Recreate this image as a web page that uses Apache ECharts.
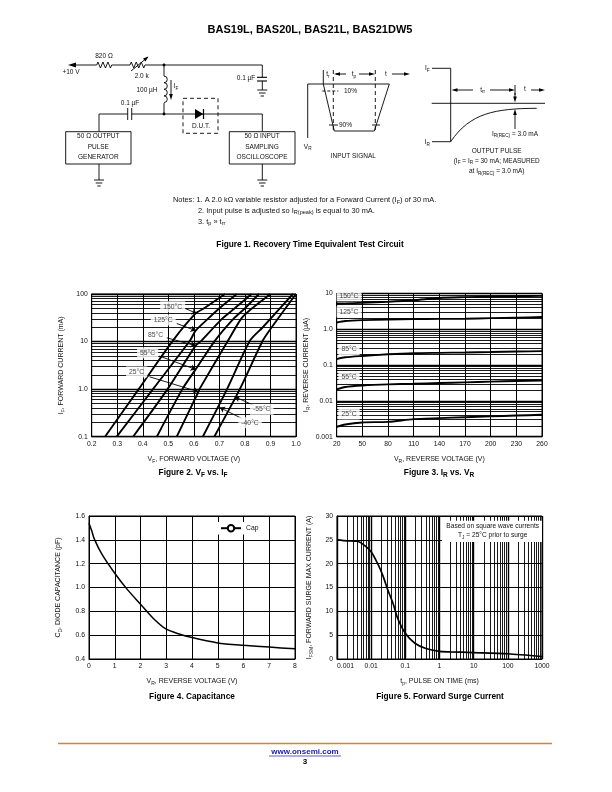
<!DOCTYPE html>
<html><head><meta charset="utf-8">
<style>html,body{margin:0;padding:0;background:#fff}#c{width:612px;height:792px}</style>
<script src="https://cdn.jsdelivr.net/npm/echarts@6/dist/echarts.min.js"></script>
</head><body><div id="c"></div>
<script>
// ---- Figure 2: VF vs IF
const f2Current150=[0.1,1,10.5,39,50,100];
const f2Volt150=[0.252,0.384,0.518,0.607,0.64,0.722];
const f2Current125=[0.1,1,10.5,17,30,50,100];
const f2Volt125=[0.298,0.44,0.585,0.607,0.655,0.70,0.768];
const f2Current85=[0.1,1,8.2,10.5,30,50,100];
const f2Volt85=[0.362,0.497,0.607,0.63,0.71,0.76,0.826];
const f2Current55=[0.1,1,2.6,10.5,30,50,100];
const f2Volt55=[0.455,0.555,0.607,0.683,0.755,0.80,0.855];
const f2Current25=[0.1,0.88,1,10.5,30,46,100];
const f2Volt25=[0.533,0.618,0.622,0.734,0.785,0.82,0.90];
const f2CurrentM55=[0.1,1,10.5,20,100];
const f2VoltM55=[0.635,0.73,0.82,0.87,0.988];
const f2CurrentM40=[0.1,1,10.5,20,100];
const f2VoltM40=[0.68,0.78,0.87,0.905,1.0];
// ---- Figure 3: IR vs VR
const f3Volt=[20,30,50,80,110,140,170,200,230,260];
const f3I150=[5.25,5.3,5.5,5.9,6.5,7.5,7.9,8.2,8.4,8.6];
const f3I125=[1.55,1.7,1.8,1.87,1.93,1.95,1.97,2.05,2.12,2.2];
const f3I85=[0.147,0.165,0.18,0.2,0.215,0.22,0.225,0.232,0.24,0.245];
const f3I55=[0.021,0.0245,0.027,0.029,0.030,0.0315,0.033,0.0345,0.036,0.037];
const f3I25=[0.0019,0.0022,0.0025,0.0026,0.0031,0.0033,0.0035,0.0037,0.0039,0.0041];
// ---- Figure 4: capacitance
const f4Volt=[0,0.1,0.2,0.5,1,1.5,2,2.5,3,3.5,4,5,6,7,8];
const f4Cap=[1.54,1.48,1.41,1.28,1.12,0.98,0.86,0.74,0.65,0.61,0.58,0.535,0.515,0.50,0.485];
// ---- Figure 5: surge current
const f5Time=[0.001,0.002,0.004,0.0065,0.01,0.0155,0.022,0.031,0.044,0.06,0.1,0.19,0.4,1,2,10,100,1000];
const f5Surge=[25,24.8,24.7,23.8,22.5,20,17.5,14.4,11.6,8.5,5.4,3.3,2.2,1.6,1.5,1.35,1.1,0.5];
// ---- Grid values and tick labels
const logMinor=[2,3,4,5,6,7,8,9];
const f2Decades=[0.1,1,10];
const f3Decades=[0.001,0.01,0.1,1];
const f5Decades=[0.001,0.01,0.1,1,10,100];
const f3Ticks=[20,50,80,110,140,170,200,230,260];
// ---- Annotations (x, y, text in data units)
const f2Labels=[[0.517,54,'150°C'],[0.48,28.4,'125°C'],[0.45,13.7,'85°C'],[0.419,5.8,'55°C'],[0.376,2.3,'25°C'],[0.866,0.376,'-55°C'],[0.82,0.197,'-40°C']];
const f2Leaders=[[0.565,50,0.611,39],[0.533,24,0.607,17],[0.494,12,0.607,8.2],[0.465,4.96,0.607,2.6],[0.426,1.82,0.618,0.88],[0.833,0.46,0.761,0.69],[0.787,0.243,0.702,0.41]];
const f3Labels=[[34.4,8.6,'150°C'],[34.4,3.07,'125°C'],[34.4,0.273,'85°C'],[34.4,0.0449,'55°C'],[34.4,0.0043,'25°C']];

const FONT='"Liberation Sans",Arial,sans-serif';
const zip=(a,b)=>a.map((v,i)=>[v,b[i]]);
const minors=d=>d.flatMap(x=>logMinor.map(m=>+(x*m).toPrecision(3)));
const subRich=(fs)=>({b:{fontSize:fs,fontFamily:FONT,color:'#111'},s:{fontSize:fs-2,fontFamily:FONT,color:'#111',padding:[4,0,0,0]}});
const nameOf=(m,s,r)=>`{b|${m}}{s|${s}}{b|${r}}`;

function xAxis(i,o){return Object.assign({gridIndex:i,nameLocation:'middle',nameGap:18,
  nameTextStyle:{rich:subRich(7)},axisLine:{show:true,onZero:false,lineStyle:{color:'#000',width:1}},axisTick:{show:false},
  axisLabel:{fontSize:6.8,fontFamily:FONT,color:'#111',margin:4},
  splitLine:{show:true,lineStyle:{color:'#000',width:1}},minorTick:{show:false}},o);}
function yAxis(i,o){return Object.assign({gridIndex:i,nameLocation:'middle',nameGap:26,nameRotate:90,
  nameTextStyle:{rich:subRich(7)},axisLine:{show:true,onZero:false,lineStyle:{color:'#000',width:1}},axisTick:{show:false},
  axisLabel:{fontSize:6.8,fontFamily:FONT,color:'#111',margin:4},
  splitLine:{show:true,lineStyle:{color:'#000',width:1}}},o);}
function curve(name,i,data,w){return {name,type:'line',xAxisIndex:i,yAxisIndex:i,data,showSymbol:false,smooth:0.25,
  lineStyle:{color:'#000',width:w},itemStyle:{color:'#000'},silent:true,z:5,clip:true};}
function gridLines(i,key,vals,w){return {type:'line',xAxisIndex:i,yAxisIndex:i,data:[],silent:true,z:1,
  markLine:{silent:true,symbol:'none',animation:false,precision:6,label:{show:false},lineStyle:{color:'#000',width:w,type:'solid'},
    data:vals.map(v=>({[key]:v}))}};}
function labelSeries(i,labels,leaders){return {type:'scatter',xAxisIndex:i,yAxisIndex:i,data:labels,symbolSize:1,silent:true,z:8,
  itemStyle:{color:'transparent'},encode:{x:0,y:1},
  label:{show:true,position:'inside',formatter:p=>p.value[2],fontSize:6.8,fontFamily:FONT,color:'#111',backgroundColor:'#fff',padding:[2,3]},
  markLine:leaders?{silent:true,symbol:['none','arrow'],symbolSize:5,animation:false,label:{show:false},lineStyle:{color:'#000',width:0.9,type:'solid'},
    data:leaders.map(l=>[{coord:[l[0],l[1]]},{coord:[l[2],l[3]]}])}:undefined};}

const G=[];
const T={type:'text'};
function ln(pts,o={}){G.push({type:'polyline',z:50,silent:true,shape:{points:pts},style:{stroke:'#000',fill:null,lineWidth:o.w||0.9,lineDash:o.dash||null}});}
function rect(x,y,w,h,o={}){G.push({type:'rect',z:o.z||50,silent:true,shape:{x,y,width:w,height:h},style:{stroke:o.stroke===undefined?'#000':o.stroke,fill:o.fill||'#fff',lineWidth:o.w||0.9,lineDash:o.dash||null}});}
function poly(pts){G.push({type:'polygon',z:51,silent:true,shape:{points:pts},style:{fill:'#000',stroke:null}});}
function dot(x,y){G.push({type:'circle',z:51,silent:true,shape:{cx:x,cy:y,r:1.4},style:{fill:'#000'}});}
function tx(x,y,text,o={}){const fs=o.fs||6.5,rich={b:{fontSize:fs,fontFamily:FONT,fill:o.c||'#111',fontWeight:o.bold?'bold':'normal'},
  s:{fontSize:fs-1.8,fontFamily:FONT,fill:o.c||'#111',padding:[4,0,0,0],fontWeight:o.bold?'bold':'normal'}};
  G.push({type:'text',z:60,silent:true,x,y,style:{text,fill:o.c||'#111',fontSize:fs,fontFamily:FONT,fontWeight:o.bold?'bold':'normal',
    align:o.align||'center',verticalAlign:'middle',rich}});}
function arrL(x,y){poly([[x,y],[x+6,y-1.8],[x+6,y+1.8]]);}
function arrR(x,y){poly([[x,y],[x-6,y-1.8],[x-6,y+1.8]]);}
function arrD(x,y){poly([[x,y],[x-1.8,y-6],[x+1.8,y-6]]);}
function arrU(x,y){poly([[x,y],[x-1.8,y+6],[x+1.8,y+6]]);}
function ground(x,y){ln([[x-5,y],[x+5,y]]);ln([[x-3.3,y+3],[x+3.3,y+3]]);ln([[x-1.7,y+6],[x+1.7,y+6]]);}
function zig(x0,x1,y){const n=6,p=[[x0,y]],d=(x1-x0)/n;for(let i=0;i<n;i++)p.push([x0+d*(i+0.5),y+(i%2?3:-3)]);p.push([x1,y]);ln(p);}

// Header
tx(310,30,'BAS19L, BAS20L, BAS21L, BAS21DW5',{fs:11,bold:true,c:'#000'});
// Left circuit
ln([[75,65],[96.7,65]]);poly([[68,65],[76,62.6],[76,67.4]]);
zig(96.7,111.7,65);ln([[111.7,65],[130,65]]);zig(130,145,65);
ln([[131,71],[148,57]]);poly([[148.5,56.5],[143,58.5],[145.5,61.5]]);
ln([[145,65],[262.3,65],[262.3,77.3]]);dot(164,65);
ln([[164,65],[164,76]]);
for(let i=0;i<4;i++)G.push({type:'arc',z:50,silent:true,shape:{cx:164,cy:79.4+i*6.6,r:3.3,startAngle:-Math.PI/2,endAngle:Math.PI/2},style:{stroke:'#000',fill:null,lineWidth:0.9}});
ln([[164,103],[164,114]]);dot(164,114);
ln([[171,80],[171,95]]);arrD(171,100);
rect(183,98.3,35,35,{dash:[4,3]});
ln([[99,131.7],[99,114],[127.7,114]]);ln([[127.7,108],[127.7,120]]);ln([[131.7,108],[131.7,120]]);
ln([[131.7,114],[262.3,114],[262.3,131.7]]);
poly([[195,109],[195,119],[203.3,114]]);ln([[203.5,109],[203.5,119]],{w:1.2});
ln([[257,77.3],[267,77.3]],{w:1.1});ln([[257,81],[267,81]],{w:1.1});ln([[262.3,81],[262.3,90]]);ground(262.3,90);
rect(65.7,131.7,65.3,32.3);rect(229.3,131.7,65.7,32.3);
ln([[99,164],[99,180]]);ground(99,180);ln([[262.3,164],[262.3,180]]);ground(262.3,180);
tx(104,56,'820 Ω');tx(71,72.7,'+10 V');tx(141.7,76,'2.0 k');tx(147,90.7,'100 µH');tx(176,86.7,'{b|I}{s|F}');
tx(130,103.3,'0.1 µF');tx(246,78.3,'0.1 µF');tx(201,126.7,'D.U.T.');
tx(98.3,136.7,'50 Ω OUTPUT');tx(98.3,147,'PULSE');tx(98.3,157.3,'GENERATOR');
tx(262,136.7,'50 Ω INPUT');tx(262,147,'SAMPLING');tx(262,157.3,'OSCILLOSCOPE');
// Input signal
ln([[307.7,138],[307.7,84],[389.3,84],[374.3,131],[334.3,131],[323.3,84]]);
ln([[333.3,70],[333.3,131]],{dash:[4,3]});ln([[375.3,70],[375.3,131]],{dash:[4,3]});ln([[323.3,70],[323.3,84]]);
ln([[336,74],[346,74]]);arrL(334,74);ln([[359,74],[370,74]]);arrR(375,74);
ln([[392,74],[404,74]]);arrR(410,74);
tx(328,74.5,'{b|t}{s|r}');tx(354,74.5,'{b|t}{s|p}');tx(386,74,'t');
ln([[322.3,91],[338.3,91]],{dash:[3,2]});tx(344,91,'10%',{align:'left'});
ln([[329,125],[338,125]]);ln([[372,125],[380,125]]);tx(339,125,'90%',{align:'left'});
tx(307.7,147,'{b|V}{s|R}');tx(353.3,156.7,'INPUT SIGNAL');
// Output pulse
tx(427.3,68.3,'{b|I}{s|F}');ln([[432,68.3],[450.7,68.3],[450.7,141.7],[432,141.7]]);
tx(427.3,142.3,'{b|I}{s|R}');ln([[431.7,103.3],[545,103.3]]);
G.push({type:'bezierCurve',z:50,silent:true,shape:{x1:450.7,y1:141.7,x2:536.7,y2:108.3,cpx1:470,cpy1:113,cpx2:495,cpy2:108.5},style:{stroke:'#000',fill:null,lineWidth:0.9}});
ln([[457,90],[473,90]]);arrL(451.5,90);ln([[490,90],[510,90]]);arrR(515,90);ln([[515,85],[515,95]]);
tx(482.7,90,'{b|t}{s|rr}');tx(525,89,'t');ln([[531,90],[540,90]]);arrR(545,90);
ln([[515,93],[515,98]]);arrD(515,102.5);ln([[515,115],[515,129]]);arrU(515,109);
tx(515,134,'{b|I}{s|R(REC)}{b| = 3.0 mA}');
tx(496.7,151,'OUTPUT PULSE');tx(496.7,161,'{b|(I}{s|F}{b| = I}{s|R}{b| = 30 mA; MEASURED}');tx(496.7,171.7,'{b|at I}{s|R(REC)}{b| = 3.0 mA)}');
// Notes
tx(173,200,'Notes: 1. A 2.0 kΩ variable resistor adjusted for a Forward Current ({s|F}) of 30 mA.'.replace('({s|F})','(I{s|F})'),{align:'left',fs:7.4});
tx(198,210.7,'2. Input pulse is adjusted so I{s|R(peak)} is equal to 30 mA.',{align:'left',fs:7.4});
tx(198,221.7,'3. t{s|p} » t{s|rr}',{align:'left',fs:7.4});
// Captions
const cap={bold:true,fs:8.3,c:'#000'};
tx(310,245,'Figure 1. Recovery Time Equivalent Test Circuit',cap);
tx(193,473,'Figure 2. V{s|F} vs. I{s|F}',cap);
tx(439,473,'Figure 3. I{s|R} vs. V{s|R}',cap);
tx(192,697,'Figure 4. Capacitance',cap);
tx(440,697,'Figure 5. Forward Surge Current',cap);
// Figure 5 note
rect(442,520.7,100,21.3,{stroke:null,fill:'#fff',z:40,w:0});
tx(492.7,526,'Based on square wave currents',{fs:6.6});
tx(492.7,535.5,'T{s|J} = 25°C prior to surge',{fs:6.6});
// Footer
ln([[58,743.5],[552,743.5]]);G[G.length-1].style.stroke='#d9822b';G[G.length-1].style.lineWidth=1.4;
tx(305,751.5,'www.onsemi.com',{bold:true,fs:8,c:'#1a1ab0'});
ln([[269,756],[341,756]]);G[G.length-1].style.stroke='#1a1ab0';G[G.length-1].style.lineWidth=0.7;
tx(305,762,'3',{bold:true,fs:8,c:'#000'});

const option={animation:false,backgroundColor:'#fff',
 grid:[
  {left:91.7,top:294,width:204.3,height:142.7,show:true,borderColor:'#000',borderWidth:1},
  {left:336.7,top:293.5,width:205.3,height:143.2,show:true,borderColor:'#000',borderWidth:1},
  {left:89,top:516,width:206,height:143,show:true,borderColor:'#000',borderWidth:1},
  {left:337,top:516,width:205,height:143,show:true,borderColor:'#000',borderWidth:1}],
 legend:{data:['Cap'],left:218,top:522,padding:[2,8,2,2],backgroundColor:'#fff',itemWidth:20,itemHeight:8,itemGap:4,z:30,
   textStyle:{fontSize:6.8,fontFamily:FONT,color:'#111'}},
 xAxis:[
  xAxis(0,{type:'value',min:0.2,max:1,interval:0.1,name:nameOf('V','F',', FORWARD VOLTAGE (V)'),axisLabel:{fontSize:6.8,fontFamily:FONT,color:'#111',margin:4,formatter:v=>v.toFixed(1)}}),
  xAxis(1,{type:'value',min:20,max:260,name:nameOf('V','R',', REVERSE VOLTAGE (V)'),axisTick:{show:false,customValues:f3Ticks},axisLabel:{fontSize:6.8,fontFamily:FONT,color:'#111',margin:4,customValues:f3Ticks}}),
  xAxis(2,{type:'value',min:0,max:8,interval:1,name:nameOf('V','R',', REVERSE VOLTAGE (V)')}),
  xAxis(3,{type:'log',logBase:10,min:0.001,max:1000,name:nameOf('t','p',', PULSE ON TIME (ms)'),axisLabel:{fontSize:6.8,fontFamily:FONT,color:'#111',margin:4,alignMinLabel:'left',formatter:v=>String(+v.toPrecision(1))},splitLine:{show:true,lineStyle:{color:'#000',width:1.4}}})],
 yAxis:[
  yAxis(0,{type:'log',logBase:10,min:0.1,max:100,name:nameOf('I','F',', FORWARD CURRENT (mA)'),axisLabel:{fontSize:6.8,fontFamily:FONT,color:'#111',margin:4,formatter:v=>v==1?'1.0':String(+v.toPrecision(1))},splitLine:{show:true,lineStyle:{color:'#000',width:1.4}}}),
  yAxis(1,{type:'log',logBase:10,min:0.001,max:10,name:nameOf('I','R',', REVERSE CURRENT (µA)'),axisLabel:{fontSize:6.8,fontFamily:FONT,color:'#111',margin:4,formatter:v=>v==1?'1.0':String(+v.toPrecision(1))},splitLine:{show:true,lineStyle:{color:'#000',width:1.4}}}),
  yAxis(2,{type:'value',min:0.4,max:1.6,interval:0.2,name:nameOf('C','D',', DIODE CAPACITANCE (pF)'),axisLabel:{fontSize:6.8,fontFamily:FONT,color:'#111',margin:4,formatter:v=>v.toFixed(1)}}),
  yAxis(3,{type:'value',min:0,max:30,interval:5,nameGap:23,name:nameOf('I','FSM',', FORWARD SURGE MAX CURRENT (A)')})],
 series:[
  gridLines(0,'yAxis',minors(f2Decades),0.9),
  gridLines(1,'yAxis',minors(f3Decades),0.9),
  gridLines(3,'xAxis',minors(f5Decades),0.9),
  curve('150°C',0,zip(f2Volt150,f2Current150),1.9),
  curve('125°C',0,zip(f2Volt125,f2Current125),1.9),
  curve('85°C',0,zip(f2Volt85,f2Current85),1.9),
  curve('55°C',0,zip(f2Volt55,f2Current55),1.9),
  curve('25°C',0,zip(f2Volt25,f2Current25),1.9),
  curve('-55°C',0,zip(f2VoltM55,f2CurrentM55),1.9),
  curve('-40°C',0,zip(f2VoltM40,f2CurrentM40),1.9),
  labelSeries(0,f2Labels,f2Leaders),
  curve('IR 150°C',1,zip(f3Volt,f3I150),1.9),
  curve('IR 125°C',1,zip(f3Volt,f3I125),1.9),
  curve('IR 85°C',1,zip(f3Volt,f3I85),1.9),
  curve('IR 55°C',1,zip(f3Volt,f3I55),1.9),
  curve('IR 25°C',1,zip(f3Volt,f3I25),1.9),
  labelSeries(1,f3Labels,null),
  curve('Cap',2,zip(f4Volt,f4Cap),1.5),
  curve('Surge',3,zip(f5Time,f5Surge),1.7)
 ],
 graphic:{elements:G}
};
const chart=echarts.init(document.getElementById('c'),null,{renderer:'canvas'});
chart.setOption(option);
</script></body></html>
